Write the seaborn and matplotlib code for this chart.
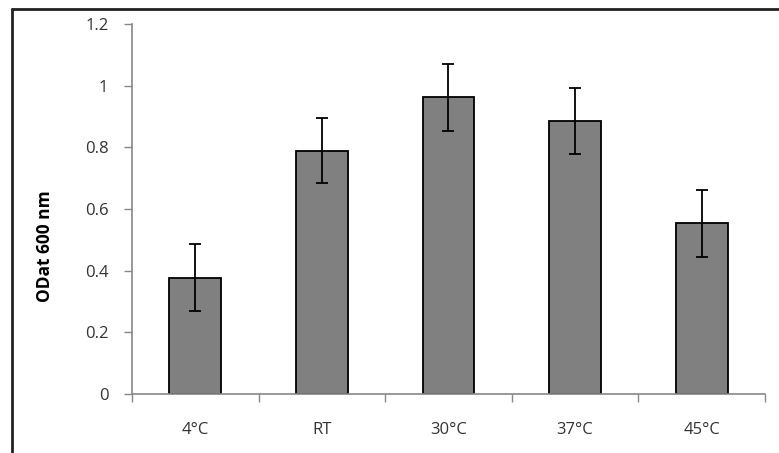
import numpy as np
import pandas as pd
import seaborn as sns
import matplotlib.pyplot as plt
from matplotlib.lines import Line2D
from matplotlib.ticker import FixedLocator

# data
temps = ["4°C", "RT", "30°C", "37°C", "45°C"]
od600 = [0.377, 0.789, 0.962, 0.884, 0.553]
od_err = [0.109, 0.105, 0.108, 0.107, 0.108]
y_ticks = [0, 0.2, 0.4, 0.6, 0.8, 1, 1.2]
y_tick_labels = ["0", "0.2", "0.4", "0.6", "0.8", "1", "1.2"]

df = pd.DataFrame({"temp": temps, "od": od600})

sns.set_style("white")
plt.rcParams["font.family"] = ["Open Sans", "DejaVu Sans"]

fig = plt.figure(figsize=(7.79, 4.53), dpi=100)
ax = fig.add_axes([132 / 779, 1 - 394 / 453, (765 - 132) / 779, (394 - 24) / 453])

sns.barplot(data=df, x="temp", y="od", color="#808080", saturation=1,
            width=0.41, edgecolor="black", linewidth=1.3, ax=ax)
ax.errorbar(np.arange(len(temps)), od600, yerr=od_err, fmt="none",
            ecolor="black", elinewidth=1.3, capsize=4, capthick=1.3)

# axes styling, excel-ish
ax.set_ylim(0, 1.2)
ax.set_xlim(-0.5, len(temps) - 0.5)
ax.set_yticks(y_ticks)
ax.set_yticklabels(y_tick_labels, fontsize=12, color="#333333")
ax.tick_params(axis="y", direction="out", length=6, width=1, color="#888888",
               left=True, pad=11)
ax.tick_params(axis="x", which="major", length=0, pad=20, labelsize=12,
               labelcolor="#333333")
ax.xaxis.set_minor_locator(FixedLocator(np.arange(len(temps) + 1) - 0.5))
ax.tick_params(axis="x", which="minor", direction="out", length=6, width=1,
               color="#888888", bottom=True)
for side in ["top", "right"]:
    ax.spines[side].set_visible(False)
for side in ["left", "bottom"]:
    ax.spines[side].set_color("#888888")
    ax.spines[side].set_linewidth(1.2)

ax.set_xlabel("")
ax.set_ylabel("")
fig.text(45 / 779, 1 - 246 / 453, "ODat 600 nm", rotation=90, ha="center",
         va="center", fontsize=12.5, fontweight="bold", color="black")

# outer frame of the original screenshot (top and left only)
fig.add_artist(Line2D([12 / 779, 1], [1 - 9 / 453, 1 - 9 / 453],
                      color="#222222", linewidth=2, transform=fig.transFigure))
fig.add_artist(Line2D([12 / 779, 12 / 779], [1 - 9 / 453, 0],
                      color="#222222", linewidth=2, transform=fig.transFigure))

fig.savefig("out.png", dpi=100)
